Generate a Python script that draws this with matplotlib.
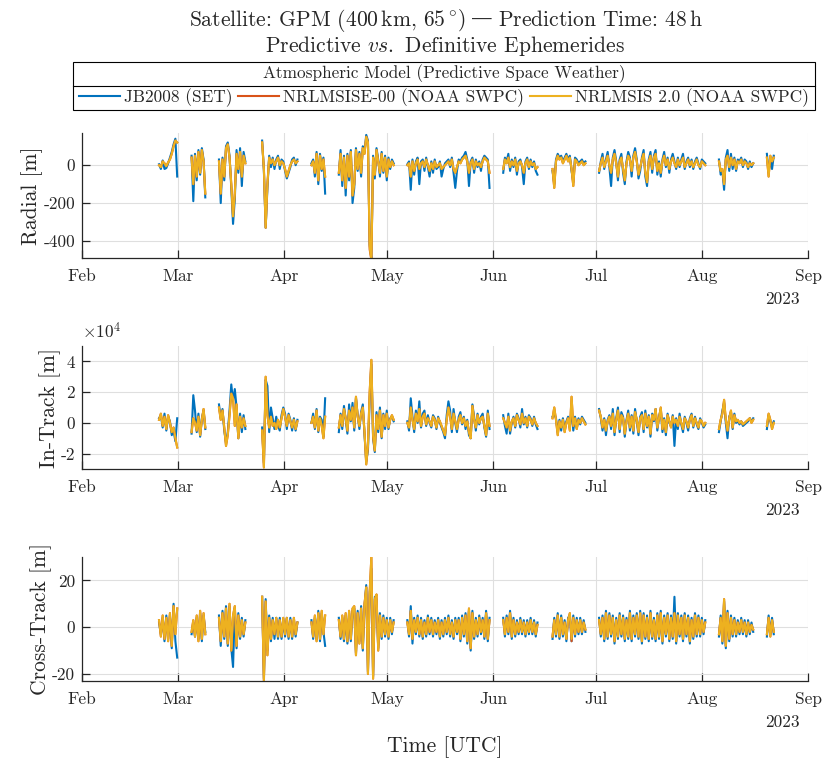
import numpy as np
import matplotlib
matplotlib.use('Agg')
import matplotlib.pyplot as plt
import matplotlib.dates as mdates
from matplotlib.lines import Line2D
from matplotlib.patches import Rectangle
from matplotlib.ticker import FuncFormatter

plt.rcParams['font.family'] = ['cmr10', 'DejaVu Serif']
plt.rcParams['mathtext.fontset'] = 'cm'
plt.rcParams['axes.formatter.use_mathtext'] = False
plt.rcParams['axes.unicode_minus'] = False

# colori MATLAB
c_jb = '#0072BD'
c_nrl00 = '#D95319'
c_msis2 = '#EDB120'
grey = '#262626'

# archi di dati: giorni da 2023-02-01
seg_start = [22.5, 32.0, 40.0, 52.6, 67.0, 75.0, 95.0, 123.0, 137.4, 151.0, 186.0, 200.0]
seg_end = [27.8, 36.0, 47.7, 62.9, 71.0, 91.0, 119.0, 133.0, 147.0, 182.0, 196.0, 202.0]

# Radial [m]
radial_jb = [
    [5, -20, 25, -20, -15, 10, 40, 70, 110, 140, -60],
    [50, -190, 60, -80, 80, -50, 90, 30, -170],
    [30, -200, 40, -80, 100, 120, 50, -120, -310, -180, 80, -40, 90, -110, 70, 20],
    [130, -30, -330, -120, 50, -10, 40, -20, 30, 50, -20, 30, 20, -30, -70, -40, -10, 30, 40, 0, 30],
    [10, 30, -60, 70, -100, 60, -30, 40, -150],
    [-50, 80, -110, 50, -160, 60, -80, 80, -200, -120, 90, -30, 70, -60, 100, 70, 160, 130, -420, -490,
     50, -70, 90, 30, -60, 70, -40, 50, -80, 40, -20, 30, 10],
    [5, 20, -130, 30, -50, 20, 40, -100, 20, 30, -30, 40, -10, -60, 20, -40, 30, -20, -10, 20, -60, -20,
     10, 20, 30, -10, 40, -40, -120, -30, 30, 20, 40, 50, 70, 30, -110, 20, 40, -40, 30, -10, 20, -30,
     30, 50, 40, 30, -120],
    [-40, 40, 20, 60, -30, 30, -10, 40, -50, 20, 30, -10, -100, 20, 40, -20, 30, -10, 20, -30, -50],
    [-30, -100, 30, 60, 40, 50, 20, 40, 60, 30, 50, -30, -90, 40, 30, 10, 20, 30, 10, 20],
    [-40, 20, 60, -20, 30, 70, -10, -110, 40, 80, 20, -80, 30, 60, -40, -100, 20, 70, 40, -60, 50, 90,
     30, -70, -30, 40, 80, -60, -110, 30, 70, -40, 50, 80, -50, 20, -60, 30, 70, -10, 40, -40, 30, 60,
     20, -20, 40, -10, 30, 60, -20, 20, 40, -10, 30, -20, 20, 40, 10, -20, 30, 20, 10],
    [30, -50, -30, -130, 40, 80, -30, 60, -20, 40, -30, 30, 20, 40, -10, 30, 20, -20, 20, -10, 10],
    [60, -40, 30, -20, 50],
]
radial_msis2 = [
    [0, -10, 20, 10, -5, 15, 30, 60, 100, 130, 120],
    [40, -100, 50, -60, 70, -40, 80, 20, -150],
    [20, -150, 30, -60, 90, 110, 40, -100, -270, -150, 60, -20, 70, -60, 50, 10],
    [120, -20, -330, -100, 40, 10, 30, 0, 20, 40, 0, 20, 10, -20, -60, -30, 0, 20, 30, 10, 20],
    [0, 20, -40, 60, -80, 50, -20, 30, -60],
    [-40, 60, -80, 40, -120, 50, -60, 70, -160, -100, 80, -20, 60, -40, 90, 60, 150, 120, -430, -500,
     40, -50, 80, 20, -40, 60, -30, 40, -60, 30, -10, 20, 0],
    [0, 10, -60, 20, -30, 10, 30, -20, 10, 20, -10, 30, 0, -30, 10, -20, 20, -10, 0, 10, -20, -10, 0,
     10, 20, 0, 30, -20, -40, -10, 20, 10, 30, 40, 50, 20, -40, 10, 30, -20, 20, 0, 10, -10, 20, 40,
     30, 20, -40],
    [-20, 30, 10, 40, -10, 20, 0, 30, -30, 10, 20, 0, -40, 10, 30, -10, 20, 0, 10, -20, -10],
    [-20, -120, 20, 50, 30, 40, 10, 30, 50, 20, 40, -20, -110, 30, 20, 0, 10, 20, 0, 10],
    [-30, 10, 40, -10, 20, 50, 0, -40, 30, 60, 10, -60, 20, 40, -20, -80, 10, 50, 30, -30, 40, 70, 20,
     -50, -10, 30, 60, -40, -90, 20, 50, -20, 40, 60, -30, 10, -40, 20, 50, 0, 30, -20, 20, 40, 10,
     -10, 30, 0, 20, 40, -10, 10, 30, 0, 20, -10, 10, 30, 0, -10, 20, 10, 0],
    [20, -30, -20, -100, 30, 50, -10, 40, 0, 30, -20, 20, 10, 30, 0, 20, 10, -10, 10, 0, 10],
    [40, -60, 50, 20, 40],
]
radial_nrl00 = [list(s) for s in radial_msis2]
radial_nrl00[5][18] = -445

# In-Track [x 10^4 m]
intrack_jb = [
    [0.3, 0.5, -0.3, 0.6, -0.5, 0.4, 0.1, -0.8, -0.5, -1.2, 0.3],
    [-0.7, 1.8, 0.8, -0.6, 0.6, -0.9, 0.3, 0.8, -0.4],
    [1.2, 0.3, 0.9, -0.5, -1.3, -0.6, 0.8, 2.5, 1.4, 2.2, 1.0, -1.0, 0.6, -0.6, 0.5, -0.4],
    [-0.3, -2.6, 2.8, 2.4, -0.6, 1.0, 0.3, -0.4, 0.4, -0.2, -0.5, 0.5, 1.0, 0.6, -0.4, 0.6, 0.2, -0.5,
     0.3, -0.5, 0.2],
    [0.0, 0.6, -0.4, 0.9, -0.6, 0.4, 0.2, -0.9, 1.6],
    [-0.6, 0.6, -0.4, 1.1, 0.2, -0.7, 1.2, 0.1, 1.3, -0.5, 1.6, 0.5, -0.4, 0.7, 1.2, -0.8, -2.5, -1.8,
     1.5, 3.8, -1.0, -1.9, 0.7, -0.6, 1.0, -1.0, 0.6, -0.4, 0.8, -0.4, 0.3, 0.4, 0.1],
    [0.1, -0.5, 1.6, 0.4, -0.6, 0.8, 0.0, 1.4, -0.3, 0.6, 0.8, -0.2, 0.5, 0.0, -0.3, 0.5, 0.3, -0.4,
     0.4, 0.0, -0.3, -0.6, -1.0, 0.5, 1.4, 0.8, -0.6, 0.9, 0.0, -0.6, 0.4, 0.7, -0.1, 0.4, -0.4, 0.2,
     -0.8, -1.0, 1.2, 0.4, -0.5, 0.6, -0.1, 0.4, 0.6, -0.3, -0.9, 0.8, -0.4],
    [0.5, -0.2, -0.7, 0.6, -0.7, 0.0, 0.4, -0.3, 0.6, 0.3, -0.3, 0.9, -0.1, 0.4, -0.3, 0.5, 0.3, -0.2,
     0.4, -0.1, -0.4],
    [0.4, 0.6, 0.3, -0.6, 0.2, -0.5, 0.3, -0.4, 0.1, 0.4, -0.3, 0.9, -0.5, 0.4, -0.3, 0.3, -0.1, 0.4,
     0.2, 0.0],
    [0.9, 0.3, -0.5, 0.3, -0.8, 0.2, 0.5, -0.4, 0.9, -0.8, 0.3, 1.0, -0.6, 0.7, 0.4, -0.9, 0.2, 0.8,
     -0.5, 0.5, -0.7, 0.9, 0.1, -0.8, 0.4, 0.7, -0.6, 0.8, -0.3, 0.5, -0.9, 0.6, 0.1, 0.9, -0.5, 0.4,
     0.9, -0.6, 0.3, -0.8, 0.6, 0.0, -0.2, 0.5, -1.5, 0.3, -0.4, 0.6, -0.1, -0.6, 0.4, 0.0, -0.5, 0.3,
     0.6, -0.3, 0.4, -0.1, -0.4, 0.3, 0.0, -0.3, -0.1],
    [-0.6, 0.1, 0.8, 1.3, 0.0, -1.0, 0.4, 0.7, -0.4, 0.6, 0.0, 0.1, -0.1, 0.1, -0.2, -0.1, 0.0, 0.1,
     0.3, 0.1, 0.3],
    [-0.4, 0.5, 0.1, -0.2, 0.1],
]
intrack_msis2 = [
    [0.2, 0.6, -0.2, 0.4, -0.4, 0.5, 0.0, -0.6, -0.3, -1.0, -1.6],
    [-0.6, 0.3, 0.0, -0.5, 0.4, -0.8, 0.2, 0.9, -0.3],
    [1.0, 0.2, 0.8, -0.3, -1.5, -0.8, 0.5, 1.9, 1.6, -0.2, 1.2, -1.0, 0.4, -0.3, 0.3, -0.2],
    [-0.5, -2.9, 3.0, 0.5, -0.3, 0.4, -0.2, 0.0, -0.4, 0.2, -0.3, 0.3, 0.9, 0.4, -0.2, 0.5, 0.1, -0.3,
     0.2, -0.4, 0.1],
    [0.0, 0.4, -0.3, 0.8, -0.5, 0.3, -0.2, -1.0, 0.4],
    [-0.3, 0.5, -0.2, 0.9, 0.3, -0.5, 0.8, 0.2, 1.0, -0.3, 1.7, 0.4, -0.2, 0.6, 1.0, -0.6, -2.7, -1.5,
     2.0, 4.1, -0.8, -1.8, 0.5, -0.4, 0.8, -0.9, 0.5, -0.2, 0.6, -0.3, 0.2, 0.5, 0.2],
    [0.0, -0.3, 1.0, 0.2, -0.4, 0.6, 0.1, 0.9, -0.2, 0.4, 0.6, -0.1, 0.3, 0.1, -0.2, 0.4, 0.2, -0.3,
     0.3, 0.1, -0.2, -0.5, -0.8, 0.2, 1.0, 0.4, -0.4, 0.6, 0.1, -0.4, 0.2, 0.5, 0.0, 0.3, -0.2, 0.1,
     -0.6, -1.0, 1.1, 0.2, -0.3, 0.5, 0.0, 0.3, 0.4, -0.2, -0.8, 0.6, -0.2],
    [0.3, 0.0, -0.3, 0.4, -0.5, 0.1, 0.3, -0.2, 0.5, 0.2, -0.1, 0.6, 0.0, 0.3, -0.2, 0.4, 0.2, -0.1,
     0.3, 0.0, -0.2],
    [0.3, 1.0, 0.2, -0.8, 0.1, -0.3, 0.2, -0.6, 0.0, 0.3, -0.5, 1.7, -0.2, 0.3, -0.4, 0.2, 0.0, 0.3,
     0.1, -0.1],
    [0.8, 0.4, -0.3, 0.2, -0.5, 0.1, 0.4, -0.2, 0.6, -0.6, 0.2, 0.8, -0.4, 0.5, 0.3, -0.7, 0.1, 0.6,
     -0.3, 0.4, -0.5, 0.7, 0.2, -0.6, 0.3, 0.5, -0.4, 0.6, -0.2, 0.4, -0.7, 0.5, 0.2, 0.9, -0.3, 0.3,
     1.0, -0.4, 0.2, -0.6, 0.5, 0.1, -0.3, 0.4, 0.0, 0.2, -0.2, 0.4, 0.0, -0.4, 0.3, 0.1, -0.3, 0.2,
     0.5, -0.2, 0.3, 0.0, -0.3, 0.2, 0.1, -0.2, 0.0],
    [-0.4, 0.2, 0.6, 1.5, 0.2, -0.5, 0.3, 0.8, -0.3, 0.5, 0.1, 0.2, 0.0, 0.1, -0.1, 0.0, 0.1, 0.2, 0.3,
     0.0, 0.2],
    [-0.2, 0.6, 0.2, -0.4, 0.0],
]
intrack_nrl00 = [list(s) for s in intrack_msis2]
intrack_nrl00[5][20] = -0.9

# Cross-Track [m]
cross_jb = [
    [2, -3, 4, -6, 5, -5, 5, -9, 10, -6, -13],
    [-3, 2, -4, 4, -5, 6, -6, 5, -2],
    [5, -8, 7, -5, 9, -8, 9, -9, -17, 8, -9, 6, -5, 4, -4, 3],
    [13, -22, 12, -10, 5, -6, 4, -5, 4, -5, 4, -5, 3, -4, 4, -5, 4, -5, 3, -4, 2],
    [3, -5, 4, -5, 7, -6, 6, -2, -8],
    [4, -5, 4, -6, 5, -7, 6, -6, 7, 8, -11, 7, -6, 9, -10, 9, 18, -19, 14, 25, -21, 13, 12, -9, 6, -5,
     5, -4, 4, -5, 4, -3, 3],
    [3, -4, 9, -7, 4, -3, 5, -4, 4, -5, 3, -4, 5, -3, 4, -4, 3, -3, 4, -5, 3, -4, 4, -3, 5, -4, 3, -5,
     4, -3, 4, -6, 5, -4, 6, -7, 7, -10, 7, -5, 4, -4, 5, -3, 4, -5, 7, -6, 4],
    [4, -4, 5, -3, 7, -5, 4, -4, 3, -3, 4, -3, 3, -4, 3, -3, 4, -3, 3, -4, 2],
    [-5, 4, -4, 6, -5, 5, -4, 3, -6, 4, 5, -6, 5, -4, 4, -3, 4, -3, 3, -2],
    [4, -4, 5, -6, 7, -5, 6, -4, 5, -7, 4, -5, 6, -4, 5, -6, 4, -5, 7, -6, 5, -4, 6, -5, 7, -7, 6, -5,
     5, -6, 7, -5, 4, -6, 6, -5, 7, -7, 5, -4, 6, -6, 5, -5, 13, -7, 6, -4, 5, -6, 6, -4, 5, -7, 4, -5,
     6, -4, 5, -4, 4, -3, 3],
    [-4, 5, -7, 11, -9, 7, -6, 5, -4, 4, -4, 3, -3, 4, -3, 3, -4, 3, -3, 2, -2],
    [-4, 5, -3, 4, -3],
]
cross_msis2 = [
    [3, -4, 5, -5, 4, -6, 6, -8, 9, -3, 8],
    [-2, 3, -4, 5, -6, 7, -5, 6, -3],
    [4, -6, 6, -4, 8, -7, 10, -10, 5, 9, -8, 5, -4, 3, -3, 2],
    [13, -23, 11, -12, 4, -5, 3, -3, 4, -4, 3, -4, 4, -3, 4, -4, 3, -4, 4, -3, 2],
    [2, -4, 5, -6, 6, -5, 7, -3, 5],
    [3, -4, 5, -5, 6, -6, 7, -5, 8, 9, -12, 6, -7, 8, -9, 10, 17, -20, 15, 30, -22, 12, 14, -10, 5, -4,
     4, -3, 3, -4, 3, -2, 2],
    [2, -3, 7, -5, 3, -2, 4, -3, 3, -4, 2, -3, 4, -2, 3, -3, 2, -2, 3, -4, 2, -3, 3, -2, 4, -3, 2, -4,
     3, -2, 3, -5, 4, -3, 5, -6, 8, -9, 6, -4, 3, -3, 4, -2, 3, -4, 6, -5, 3],
    [3, -3, 4, -2, 6, -4, 3, -3, 2, -2, 3, -2, 2, -3, 2, -2, 3, -2, 2, -3, 1],
    [-4, 3, -3, 5, -4, 4, -3, 2, -5, 3, 6, -5, 4, -3, 3, -2, 3, -2, 2, -1],
    [3, -3, 4, -5, 6, -4, 5, -3, 4, -6, 3, -4, 5, -3, 4, -5, 3, -4, 6, -5, 4, -3, 5, -4, 6, -6, 5, -4,
     4, -5, 6, -4, 3, -5, 5, -4, 6, -6, 4, -3, 5, -5, 4, -4, 6, -6, 5, -3, 4, -5, 5, -3, 4, -6, 3, -4,
     5, -3, 4, -3, 3, -2, 2],
    [-3, 4, -6, 12, -8, 6, -5, 4, -3, 3, -3, 2, -2, 3, -2, 2, -3, 2, -2, 1, -1],
    [-3, 4, -4, 3, -2],
]
cross_nrl00 = [list(s) for s in cross_msis2]
cross_nrl00[8][11] = -6

model_names = ['JB2008 (SET)', 'NRLMSISE-00 (NOAA SWPC)', 'NRLMSIS 2.0 (NOAA SWPC)']

t0 = mdates.date2num(np.datetime64('2023-02-01'))
t1 = mdates.date2num(np.datetime64('2023-09-01'))


def build(arcs, scale=1.0):
    xs, ys = [], []
    for a, b, vals in zip(seg_start, seg_end, arcs):
        d = np.linspace(a, b, len(vals))
        xs.extend(t0 + d)
        ys.extend(np.array(vals, dtype=float) * scale)
        xs.append(np.nan)
        ys.append(np.nan)
    return np.array(xs), np.array(ys)


fig = plt.figure(figsize=(8.27, 7.67), dpi=100)

L, W = 82 / 827, 726 / 827
ax1 = fig.add_axes([L, 1 - 258 / 767, W, 125 / 767])
ax2 = fig.add_axes([L, 1 - 469 / 767, W, 123 / 767])
ax3 = fig.add_axes([L, 1 - 681 / 767, W, 124 / 767])

panels = [
    (ax1, radial_jb, radial_nrl00, radial_msis2, 1.0, 'Radial [m]', (-490, 170), [-400, -200, 0]),
    (ax2, intrack_jb, intrack_nrl00, intrack_msis2, 1e4, 'In-Track [m]', (-3e4, 5e4), [-2e4, 0, 2e4, 4e4]),
    (ax3, cross_jb, cross_nrl00, cross_msis2, 1.0, 'Cross-Track [m]', (-23, 30), [-20, 0, 20]),
]

for ax, jb, n00, m2, sc, lab, yl, yt in panels:
    for arcs, col in [(jb, c_jb), (n00, c_nrl00), (m2, c_msis2)]:
        x, y = build(arcs, sc)
        ax.plot(x, y, color=col, lw=1.5)
    ax.set_xlim(t0, t1)
    ax.set_ylim(*yl)
    ax.set_yticks(yt)
    ax.yaxis.set_major_formatter(FuncFormatter(lambda v, p, s=sc: f'{v / s:g}'))
    ax.xaxis.set_major_locator(mdates.MonthLocator())
    ax.xaxis.set_major_formatter(mdates.DateFormatter('%b'))
    ax.grid(True, color='#dfdfdf', lw=0.8)
    ax.set_axisbelow(True)
    for s in ['top', 'right']:
        ax.spines[s].set_visible(False)
    for s in ['left', 'bottom']:
        ax.spines[s].set_color(grey)
        ax.spines[s].set_linewidth(0.9)
    ax.tick_params(direction='in', length=6, width=0.9, colors=grey, labelsize=12.5)
    ax.tick_params(axis='x', pad=8)
    ax.tick_params(axis='y', pad=5)
    ax.set_ylabel(lab, fontsize=15.5, color=grey, labelpad=0)
    ax.annotate('2023', xy=(1, 0), xycoords='axes fraction', xytext=(-6, -30),
                textcoords='offset points', ha='right', va='center', fontsize=12.5, color=grey)

# moltiplicatore dell'asse In-Track
ax2.annotate(r'$\times10^{4}$', xy=(0, 1), xycoords='axes fraction', xytext=(0, 3),
             textcoords='offset points', ha='left', va='bottom', fontsize=12.5, color=grey)

ax3.set_xlabel('Time [UTC]', fontsize=15.5, color=grey, labelpad=21)

# titolo (lineetta lunga presa da DejaVu Serif)
yb1 = 1 - 26 / 767
dash = fig.text(482 / 827, yb1, '—', family='DejaVu Serif', ha='center', va='baseline',
                fontsize=15.5, color=grey)
ax1.annotate(r'Satellite: GPM ($400\,\mathrm{km}$, $65\,^{\circ}$)', xy=(0, yb1),
             xycoords=(dash, 'figure fraction'), xytext=(-4, 0), textcoords='offset points',
             ha='right', va='baseline', fontsize=15.5, color=grey, annotation_clip=False)
ax1.annotate(r'Prediction Time: $48\,\mathrm{h}$', xy=(1, yb1),
             xycoords=(dash, 'figure fraction'), xytext=(4, 0), textcoords='offset points',
             ha='left', va='baseline', fontsize=15.5, color=grey, annotation_clip=False)
fig.text(0.538, 1 - 52 / 767, r'Predictive $\mathit{vs.}$ Definitive Ephemerides',
         ha='center', va='baseline', fontsize=15.5, color=grey)

# legenda con riga del titolo
bx0, bx1 = 73 / 827, 815 / 827
by0, by1 = 1 - 110 / 767, 1 - 62 / 767
ysep = 1 - 86 / 767
fig.add_artist(Rectangle((bx0, by0), bx1 - bx0, by1 - by0, transform=fig.transFigure,
                         fill=False, ec='black', lw=0.8))
fig.add_artist(Line2D([bx0, bx1], [ysep, ysep], transform=fig.transFigure, color='black', lw=0.8))
fig.text((bx0 + bx1) / 2, (ysep + by1) / 2, 'Atmospheric Model (Predictive Space Weather)',
         ha='center', va='center', fontsize=12.4, color=grey)
handles = [Line2D([], [], color=c, lw=1.5) for c in [c_jb, c_nrl00, c_msis2]]
fig.legend(handles, model_names, loc='center', bbox_to_anchor=((bx0 + bx1) / 2, (by0 + ysep) / 2),
           ncol=3, frameon=False, fontsize=12.4, handlelength=2.35, handletextpad=0.25,
           columnspacing=0.35, borderpad=0, labelcolor=grey)

plt.savefig('out.png', dpi=100)
